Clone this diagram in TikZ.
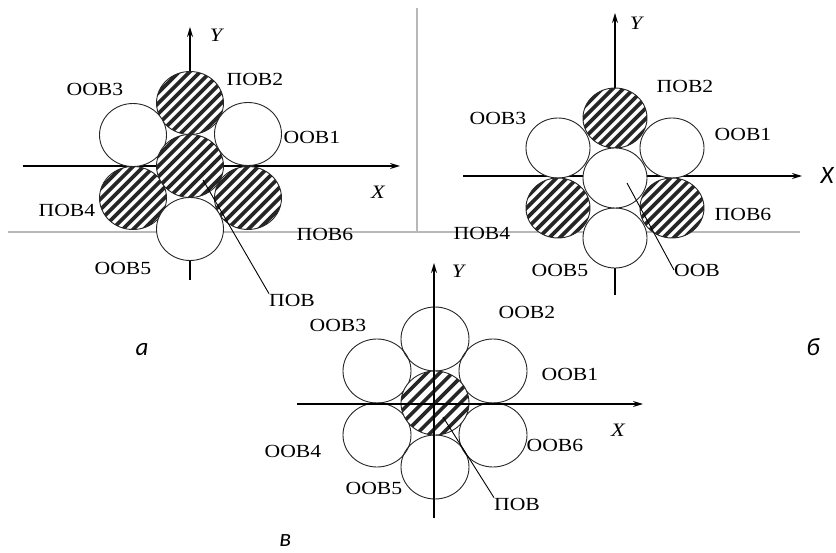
\documentclass[tikz,border=0pt]{standalone}
\usepackage{fontspec}
\setmainfont{Liberation Serif}[FakeStretch=1.17]
\newfontfamily\capfont{Carlito}
\usetikzlibrary{arrows.meta,shapes.geometric}
\tikzset{
  lbl/.style={font=\fontsize{18.5}{19}\selectfont, inner sep=0pt},
  axl/.style={font=\fontsize{19}{20}\selectfont\itshape, inner sep=0pt},
  capl/.style={font=\fontsize{25}{26}\selectfont\capfont\itshape, inner sep=0pt},
  axis/.style={line width=1.4pt, -{Stealth[length=10pt,width=6pt]}},
  leader/.style={line width=0.9pt},
  sepline/.style={draw=black!28, line width=1.3pt},
  wireA/.style={ellipse, draw=black!85, line width=0.9pt, fill=white, inner sep=0pt, minimum width=67pt, minimum height=63pt},
  wireB/.style={ellipse, draw=black!85, line width=0.9pt, fill=white, inner sep=0pt, minimum width=64pt, minimum height=60pt},
  wireC/.style={ellipse, draw=black!85, line width=0.9pt, inner sep=0pt, minimum width=68pt, minimum height=64pt},
  hatch/.style={path picture={
      \foreach \k in {-8,...,8}
        \draw[line width=3.6pt] ([shift={({(\k*#1-60)*1pt},-60pt)}]path picture bounding box.center) -- ++(120pt,120pt);
  }},
}
\begin{document}
\begin{tikzpicture}[x=1pt,y=-1pt]
\useasboundingbox (0,0) rectangle (836,553);

% separators
\coordinate (s1) at (8,232);
\coordinate (s2) at (800,232);
\coordinate (s3) at (417,8);
\coordinate (s4) at (417,232);
\draw[sepline] (s1) -- (s2);
\draw[sepline] (s3) -- (s4);

% ---------- a ----------
\coordinate (axL) at (23,166);
\coordinate (axR) at (400,166);
\coordinate (ayB) at (190,280);
\coordinate (ayT) at (190,27);
\draw[axis] (axL) -- (axR);
\draw[axis] (ayB) -- (ayT);
\node[wireA,hatch=10.5] (a2) at (190,103) {};
\node[wireA] (a1) at (248,134) {};
\node[wireA] (a3) at (133,135) {};
\node[wireA,hatch=10.5] (a4) at (133,198) {};
\node[wireA,hatch=10.5] (a6) at (248,198) {};
\node[wireA] (a5) at (190,229) {};
\node[wireA,hatch=10.5] (a0) at (190,166) {};
\node[axl] (aY) at (216,35) {Y};
\node[axl] (aX) at (378,192) {X};
\node[lbl] (la2) at (255,79) {ПОВ2};
\node[lbl] (la3) at (95,89) {ООВ3};
\node[lbl] (la1) at (312,137) {ООВ1};
\node[lbl] (la4) at (67,210) {ПОВ4};
\node[lbl] (la6) at (325,234) {ПОВ6};
\node[lbl] (la5) at (123,268) {ООВ5};
\node[lbl] (la0) at (292,300) {ПОВ};
\coordinate (pa) at (203,180);
\draw[leader] (pa) -- (la0.north west);
\node[capl] (capa) at (142,350) {а};

% ---------- b ----------
\coordinate (bxL) at (463,176);
\coordinate (bxR) at (802,176);
\coordinate (byB) at (615,295);
\coordinate (byT) at (615,13);
\draw[axis] (bxL) -- (bxR);
\draw[axis] (byB) -- (byT);
\node[wireB,hatch=10.5] (b2) at (615,118) {};
\node[wireB] (b1) at (672,148) {};
\node[wireB] (b3) at (558,148) {};
\node[wireB,hatch=10.5] (b4) at (558,208) {};
\node[wireB,hatch=10.5] (b6) at (672,208) {};
\node[wireB] (b5) at (615,238) {};
\node[wireB] (b0) at (615,178) {};
\node[axl] (bY) at (636,23) {Y};
\node[capl] (bX) at (827,175) {X};
\node[lbl] (lb2) at (685,86) {ПОВ2};
\node[lbl] (lb3) at (498,118) {ООВ3};
\node[lbl] (lb1) at (743,134) {ООВ1};
\node[lbl] (lb6) at (743,214) {ПОВ6};
\node[lbl] (lb4) at (482,233) {ПОВ4};
\node[lbl] (lb5) at (560,270) {ООВ5};
\node[lbl] (lb0) at (697,270) {ООВ};
\coordinate (pb) at (627,183);
\draw[leader] (pb) -- (lb0.west);
\node[capl] (capb) at (813,347) {б};

% ---------- c ----------
\node[wireC] (c2) at (435,339) {};
\node[wireC] (c1) at (493,371) {};
\node[wireC] (c3) at (377,371) {};
\node[wireC] (c4) at (377,435) {};
\node[wireC] (c6) at (493,435) {};
\node[wireC] (c5) at (435,467) {};
\node[wireC,fill=white,hatch=12.7] (c0) at (435,403) {};
\coordinate (cxL) at (297,404);
\coordinate (cxR) at (643,404);
\coordinate (cyB) at (434,518);
\coordinate (cyT) at (434,263);
\draw[axis] (cxL) -- (cxR);
\draw[axis] (cyB) -- (cyT);
\node[axl] (cY) at (458,271) {Y};
\node[axl] (cX) at (618,430) {X};
\node[lbl] (lc3) at (338,325) {ООВ3};
\node[lbl] (lc2) at (527,312) {ООВ2};
\node[lbl] (lc1) at (570,374) {ООВ1};
\node[lbl] (lc4) at (293,451) {ООВ4};
\node[lbl] (lc6) at (555,445) {ООВ6};
\node[lbl] (lc5) at (374,488) {ООВ5};
\node[lbl] (lc0) at (517,504) {ПОВ};
\coordinate (pc) at (443,417);
\draw[leader] (pc) -- (lc0.north west);
\node[capl] (capc) at (285,541) {в};
\end{tikzpicture}
\end{document}
